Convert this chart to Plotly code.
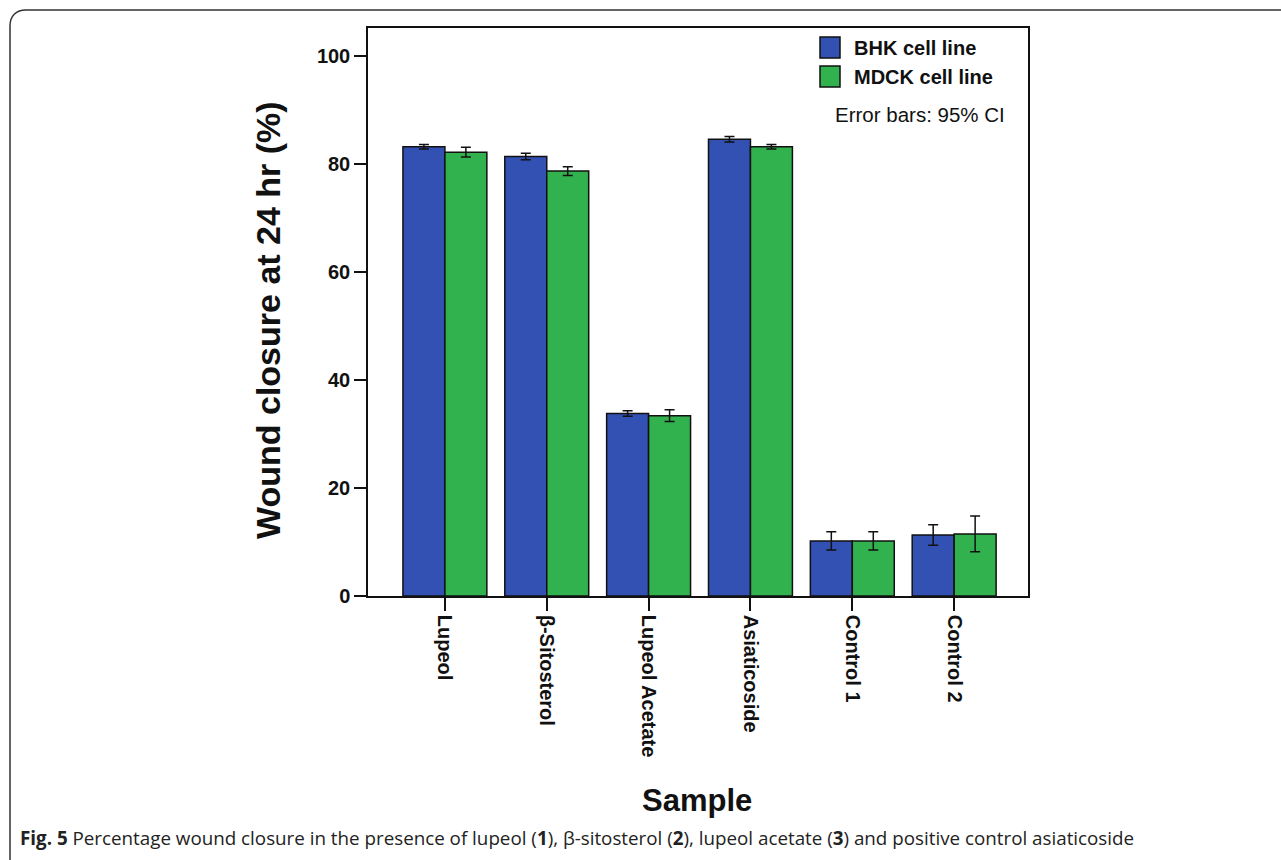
import plotly.graph_objects as go

# Samples and wound-closure means (%) with 95% CI half-widths
samples = ["Lupeol", "β-Sitosterol", "Lupeol Acetate", "Asiaticoside", "Control 1", "Control 2"]
bhk_mean = [83.2, 81.4, 33.8, 84.6, 10.2, 11.3]
bhk_ci = [0.4, 0.6, 0.5, 0.5, 1.7, 1.9]
mdck_mean = [82.2, 78.7, 33.4, 83.2, 10.2, 11.5]
mdck_ci = [0.9, 0.8, 1.1, 0.4, 1.7, 3.3]
series_names = ["BHK cell line", "MDCK cell line"]
y_ticks = [0, 20, 40, 60, 80, 100]

BLUE = "#3350b3"
GREEN = "#32b24e"
W, H = 1281, 860
L, R, T, B = 368, 1028, 28, 596  # plot box in pixels


def px(x):
    return (x - L) / (R - L)


def py(y):
    return (B - y) / (B - T)


fig = go.Figure()
for name, mean, ci, color in [
    (series_names[0], bhk_mean, bhk_ci, BLUE),
    (series_names[1], mdck_mean, mdck_ci, GREEN),
]:
    fig.add_trace(go.Bar(
        x=samples, y=mean, name=name, showlegend=False,
        marker=dict(color=color, line=dict(color="#111", width=1.5)),
        error_y=dict(type="data", array=ci, visible=True, color="#111",
                     thickness=1.5, width=5),
    ))

font_b = "Liberation Sans, Arial, sans-serif"

fig.update_layout(
    width=W, height=H,
    margin=dict(l=L, r=W - R, t=T, b=H - B),
    paper_bgcolor="white", plot_bgcolor="white",
    barmode="group", bargap=0.176, bargroupgap=0,
    font=dict(family=font_b, color="#111"),
    xaxis=dict(
        range=[-0.755, 5.725], showline=True, linecolor="#111", linewidth=1.5,
        mirror=True, ticks="outside", ticklen=13, tickwidth=1.5, tickcolor="#111",
        tickangle=90, showgrid=False, zeroline=False,
        tickfont=dict(size=20, family=font_b, weight="bold"),
    ),
    yaxis=dict(
        range=[0, 105.2], showline=True, linecolor="#111", linewidth=1.5,
        mirror=True, ticks="outside", ticklen=12, tickwidth=1.5, tickcolor="#111",
        tickvals=y_ticks, showgrid=False, zeroline=False,
        tickfont=dict(size=20, family=font_b, weight="bold"),
    ),
)

annotations = [
    dict(text="<b>Wound closure at 24 hr (%)</b>", x=px(268), y=py(320),
         textangle=-90, font=dict(size=34)),
    dict(text="<b>Sample</b>", x=px(697), y=py(800), font=dict(size=31)),
    dict(text="<b>" + series_names[0] + "</b>", x=px(852), y=py(47.5),
         xanchor="left", font=dict(size=20)),
    dict(text="<b>" + series_names[1] + "</b>", x=px(852), y=py(76.5),
         xanchor="left", font=dict(size=20)),
    dict(text="Error bars: 95% CI", x=px(833), y=py(115), xanchor="left",
         font=dict(size=20.5)),
    dict(text="<b>Fig. 5</b> Percentage wound closure in the presence of lupeol (<b>1</b>), "
              "β-sitosterol (<b>2</b>), lupeol acetate (<b>3</b>) and positive control asiaticoside",
         x=px(18), y=py(838), xanchor="left",
         font=dict(size=18.8, family="Open Sans, sans-serif", color="#222")),
]
for a in annotations:
    a.update(xref="paper", yref="paper", showarrow=False)
    if "xanchor" not in a:
        a["xanchor"] = "center"
    a["yanchor"] = "middle"
fig.update_layout(annotations=annotations)

shapes = [
    dict(type="rect", x0=px(820), x1=px(840), y0=py(37), y1=py(58),
         fillcolor=BLUE, line=dict(color="#111", width=1.5)),
    dict(type="rect", x0=px(820), x1=px(840), y0=py(66), y1=py(87),
         fillcolor=GREEN, line=dict(color="#111", width=1.5)),
]
# outer frame with a rounded top-left corner
frame_path = (
    f"M {px(10)} {py(870)} L {px(10)} {py(26)} "
    f"C {px(10)} {py(16)} {px(16)} {py(10)} {px(26)} {py(10)} "
    f"L {px(1300)} {py(10)}"
)
shapes.append(dict(type="path", path=frame_path, line=dict(color="#333", width=1.5)))
for s in shapes:
    s.update(xref="paper", yref="paper")
fig.update_layout(shapes=shapes)

fig.write_html("out.html")
